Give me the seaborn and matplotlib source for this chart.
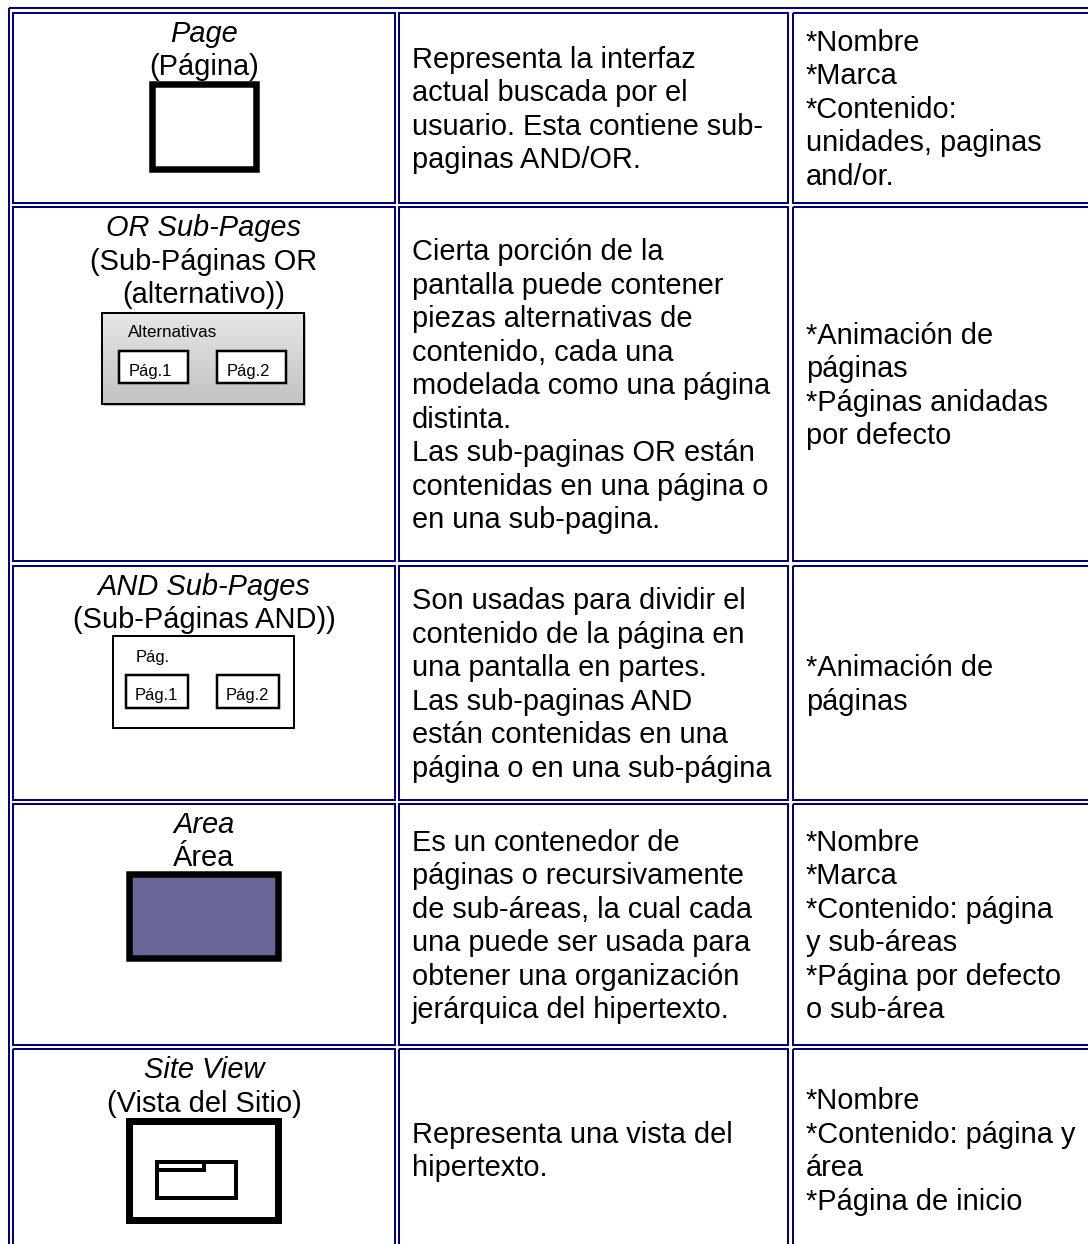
import matplotlib
matplotlib.use("Agg")
import numpy as np
import matplotlib.pyplot as plt
import seaborn as sns
from matplotlib.patches import Rectangle

sns.set_theme(style="white")
plt.rcParams['font.family'] = ['Liberation Sans', 'DejaVu Sans']
plt.rcParams['text.color'] = 'black'

# table content
element_names = ["Page", "OR Sub-Pages", "AND Sub-Pages", "Area", "Site View"]
element_labels = [
    ["(Página)"],
    ["(Sub-Páginas OR", "(alternativo))"],
    ["(Sub-Páginas AND))"],
    ["Área"],
    ["(Vista del Sitio)"],
]
descriptions = [
    ["Representa la interfaz", "actual buscada por el", "usuario. Esta contiene sub-", "paginas AND/OR."],
    ["Cierta porción de la", "pantalla puede contener", "piezas alternativas de", "contenido, cada una",
     "modelada como una página", "distinta.", "Las sub-paginas OR están", "contenidas en una página o",
     "en una sub-pagina."],
    ["Son usadas para dividir el", "contenido de la página en", "una pantalla en partes.",
     "Las sub-paginas AND", "están contenidas en una", "página o en una sub-página"],
    ["Es un contenedor de", "páginas o recursivamente", "de sub-áreas, la cual cada",
     "una puede ser usada para", "obtener una organización", "jerárquica del hipertexto."],
    ["Representa una vista del", "hipertexto."],
]
properties = [
    ["*Nombre", "*Marca", "*Contenido:", "unidades, paginas", "and/or."],
    ["*Animación de", "páginas", "*Páginas anidadas", "por defecto"],
    ["*Animación de", "páginas"],
    ["*Nombre", "*Marca", "*Contenido: página", "y sub-áreas", "*Página por defecto", "o sub-área"],
    ["*Nombre", "*Contenido: página y", "área", "*Página de inicio"],
]
icon_kinds = ["page", "or", "and", "area", "site"]
or_label = "Alternativas"
and_label = "Pág."
sub_pages = ["Pág.1", "Pág.2"]

# layout (pixels)
W, H = 1088, 1244
PT = 0.72            # points per pixel at dpi 100
NAVY = "#000080"
FS = 29 * PT
LH = 33.5
row_top = [12.5, 207, 566, 804, 1049]
row_bot = [203, 561, 800, 1045, 1250]
col_left = [13, 399, 793]
col_right = [395, 788, 1094]

fig = plt.figure(figsize=(W / 100, H / 100), dpi=100)
ax = fig.add_axes([0, 0, 1, 1])
ax.set_xlim(0, W)
ax.set_ylim(H, 0)
ax.axis("off")


def rect(x0, y0, x1, y1, lw, ec="black", fc="none", z=2):
    ax.add_patch(Rectangle((x0, y0), x1 - x0, y1 - y0, lw=lw * PT, ec=ec, fc=fc,
                           joinstyle="miter", zorder=z))


def small(x, y, s, px=16.5):
    ax.text(x, y, s, fontsize=px * PT, va="baseline", ha="left", zorder=4)


def draw_icon(kind, cx, top):
    if kind == "page":
        rect(cx - 52, top + 4.5, cx + 52, top + 89.5, 6.5)
    elif kind == "or":
        x0, x1, y0, y1 = cx - 102, cx + 100, top + 5.5, top + 96.5
        ax.add_patch(Rectangle((x0 + 2, y0 + 2), x1 - x0, y1 - y0, fc="#bbbbbb", ec="none", zorder=1))
        grad = np.linspace(0, 1, 64).reshape(-1, 1)
        ax.imshow(grad, extent=(x0, x1, y1, y0), cmap=sns.light_palette("#c2c2c2", as_cmap=True),
                  aspect="auto", zorder=2, vmin=-0.3, vmax=1)
        rect(x0, y0, x1, y1, 2, z=3)
        small(x0 + 26, y0 + 24, or_label, 17)
        for bx, lab in zip([cx - 85, cx + 13], sub_pages):
            rect(bx, y0 + 38, bx + 69, y0 + 70, 2.5, fc="white", z=3)
            small(bx + 10, y0 + 63, lab)
    elif kind == "and":
        x0, x1, y0, y1 = cx - 91, cx + 90, top + 3, top + 95
        rect(x0, y0, x1, y1, 2, fc="white")
        small(x0 + 23, y0 + 26, and_label)
        for bx, lab in zip([cx - 78, cx + 13], sub_pages):
            rect(bx, y0 + 39, bx + 62, y0 + 72, 2.5, fc="white", z=3)
            small(bx + 9, y0 + 64, lab)
    elif kind == "area":
        rect(cx - 75, top + 3, cx + 74, top + 87, 6.5, fc="#676697")
    elif kind == "site":
        rect(cx - 75, top + 5, cx + 74, top + 104, 7)
        rect(cx - 47, top + 46, cx + 32, top + 82, 4)
        rect(cx - 47, top + 46, cx, top + 54, 4)


# table borders
ax.add_patch(Rectangle((9, 8), W, H, lw=2 * PT, ec=NAVY, fc="none", zorder=5))
for r in range(5):
    for c in range(3):
        rect(col_left[c], row_top[r], col_right[c], row_bot[r], 2, ec=NAVY, z=5)

for r in range(5):
    # first column: names on top, then icon
    cx = (col_left[0] + col_right[0]) / 2
    lines = [element_names[r]] + element_labels[r]
    for i, s in enumerate(lines):
        ax.text(cx, row_top[r] + 29 + i * LH, s, fontsize=FS, ha="center", va="baseline",
                style="italic" if i == 0 else "normal", zorder=4)
    draw_icon(icon_kinds[r], cx, row_top[r] + len(lines) * LH)

    # text columns, vertically centred
    mid = (row_top[r] + row_bot[r]) / 2
    for c, col in ((1, descriptions), (2, properties)):
        block = col[r]
        start = mid - len(block) * LH / 2
        for i, s in enumerate(block):
            ax.text(col_left[c] + 13, start + 26.8 + i * LH, s, fontsize=FS, ha="left",
                    va="baseline", zorder=4)

fig.savefig("out.png", dpi=100)
